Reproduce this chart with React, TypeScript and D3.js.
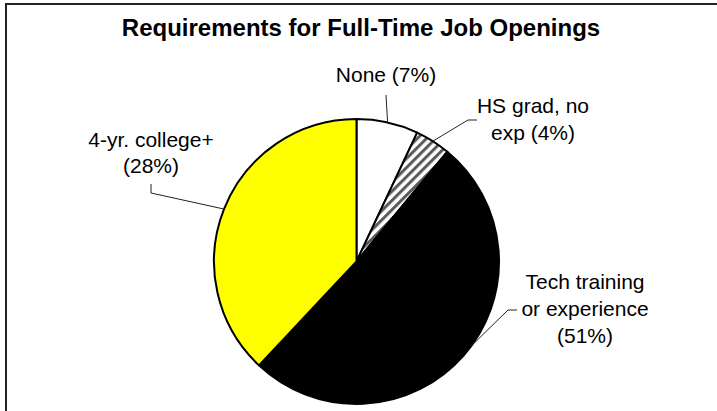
import React from "react";
import * as d3 from "d3";

const title = "Requirements for Full-Time Job Openings";
const categories = ["None", "HS grad, no exp", "Tech training or experience", "4-yr. college+"];
const values = [7, 4, 51, 38];
const labelLines = [
  ["None (7%)"],
  ["HS grad, no", "exp (4%)"],
  ["Tech training", "or experience", "(51%)"],
  ["4-yr. college+", "(28%)"],
];
const fills = ["#ffffff", "url(#hatch)", "#000000", "#ffff00"];

// layout
const W = 717;
const H = 411;
const cx = 356.5;
const cy = 261.5;
const R = 142.5;
const labelLayout = [
  { x: 386, baselines: [82], angleOffset: 0, path: [[386, 95]] },
  { x: 533, baselines: [113, 140], angleOffset: 0, path: [[468, 120], [477, 120]] },
  { x: 585, baselines: [289, 316, 343], angleOffset: -5, path: [[508, 310], [517, 310]] },
  { x: 151, baselines: [147, 173], angleOffset: 0, path: [[151, 193], [151, 184]] },
];

export default function App() {
  const pie = d3
    .pie<number>()
    .sort(null)
    .startAngle(0)
    .endAngle(2 * Math.PI)
    .value((d) => d);
  const arcs = pie(values);
  const arcGen = d3.arc<d3.PieArcDatum<number>>().innerRadius(0).outerRadius(R);
  const line = d3.line();

  return (
    <svg
      width={W}
      height={H}
      style={{ position: "absolute", left: 0, top: 0, background: "#fff" }}
      fontFamily="'Liberation Sans', Arial, sans-serif"
    >
      <defs>
        <pattern
          id="hatch"
          patternUnits="userSpaceOnUse"
          width={6.5}
          height={6.5}
          patternTransform="rotate(45)"
        >
          <rect width={6.5} height={6.5} fill="#ffffff" />
          <rect x={0} y={0} width={3} height={6.5} fill="#5a5a5a" />
        </pattern>
      </defs>
      <rect x={0} y={0} width={W} height={H} fill="#fff" />
      <line x1={6} y1={4} x2={6} y2={H} stroke="#222" strokeWidth={2} />
      <line x1={5} y1={4} x2={W} y2={4} stroke="#222" strokeWidth={2} />
      <text
        x={361}
        y={36}
        textAnchor="middle"
        fontSize={24}
        fontWeight="bold"
        fill="#000"
      >
        {title}
      </text>
      <g transform={`translate(${cx},${cy})`}>
        {arcs.map((a, i) => (
          <path
            key={categories[i]}
            d={arcGen(a) || ""}
            fill={fills[i]}
            stroke="#000"
            strokeWidth={2}
            strokeLinejoin="round"
          />
        ))}
      </g>
      {arcs.map((a, i) => {
        const L = labelLayout[i];
        const ang = (a.startAngle + a.endAngle) / 2 + (L.angleOffset * Math.PI) / 180;
        const ax = cx + R * Math.sin(ang);
        const ay = cy - R * Math.cos(ang);
        const pts: [number, number][] = [[ax, ay], ...(L.path as [number, number][])];
        return (
          <g key={"lbl" + i}>
            <path d={line(pts) || ""} fill="none" stroke="#222" strokeWidth={1} />
            {labelLines[i].map((t, j) => (
              <text
                key={j}
                x={L.x}
                y={L.baselines[j]}
                textAnchor="middle"
                fontSize={21}
                fill="#000"
              >
                {t}
              </text>
            ))}
          </g>
        );
      })}
    </svg>
  );
}
